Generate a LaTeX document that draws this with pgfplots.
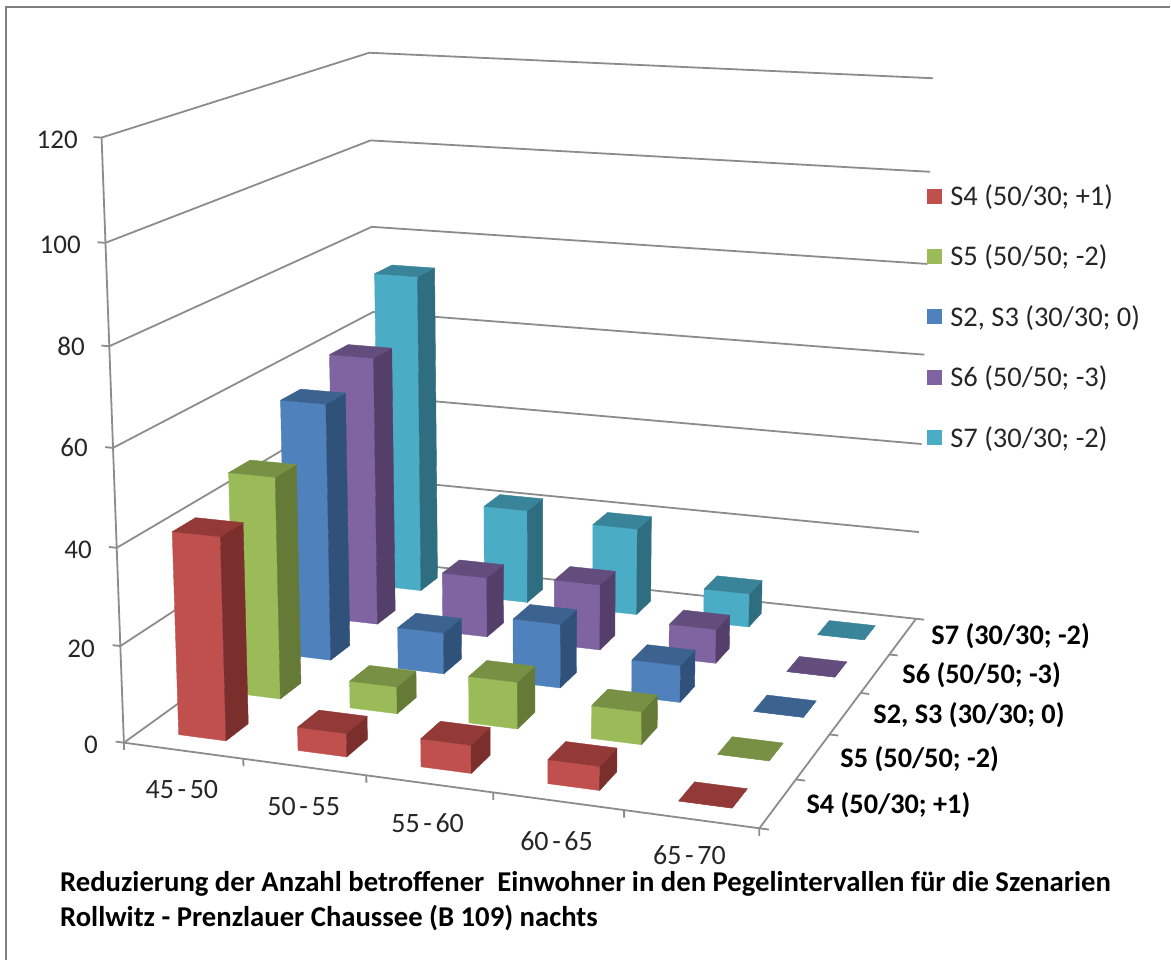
\documentclass[border=0pt]{standalone}
\usepackage{pgfplots}
\usepackage{pgfplotstable}
\usepackage{fontspec}
\pgfplotsset{compat=1.18}
\setmainfont{Carlito}

% Series colours: front, side and top face of each bar
\definecolor{redF}{HTML}{C0504D}\definecolor{redS}{HTML}{7A2F2D}\definecolor{redT}{HTML}{933A38}
\definecolor{grnF}{HTML}{9BBB59}\definecolor{grnS}{HTML}{667A37}\definecolor{grnT}{HTML}{779044}
\definecolor{bluF}{HTML}{4F81BD}\definecolor{bluS}{HTML}{30527A}\definecolor{bluT}{HTML}{3C6390}
\definecolor{purF}{HTML}{8064A2}\definecolor{purS}{HTML}{533F69}\definecolor{purT}{HTML}{624D7C}
\definecolor{cyaF}{HTML}{4BACC6}\definecolor{cyaS}{HTML}{2F6E80}\definecolor{cyaT}{HTML}{3A8499}
\definecolor{gridc}{HTML}{8C8C8C}

% Unit corners of the three visible bar faces
\pgfplotstableread{
a b c
0 0 0
1 0 0
1 0 1
0 0 1
0 0 0
}\frontface
\pgfplotstableread{
a b c
1 0 0
1 1 0
1 1 1
1 0 1
1 0 0
}\sideface
\pgfplotstableread{
a b c
0 0 1
1 0 1
1 1 1
0 1 1
0 0 1
}\topface
\pgfplotstableread{
a b
0 0
0 1
1 1
}\wallpath
\pgfplotstableread{
t s
0 0
1 1
}\segpath

% One face of the bar in category #1, row #2, of height #3
\newcommand{\barface}[5]{%
  \addplot[fill=#4,draw=#4,line width=0.4pt,forget plot] table[
    x expr={px(0.2*#1+0.063+0.08*\thisrow{a},0.2*#2+0.06+0.08*\thisrow{b},#3/120*\thisrow{c})},
    y expr={py(0.2*#1+0.063+0.08*\thisrow{a},0.2*#2+0.06+0.08*\thisrow{b},#3/120*\thisrow{c})}] {#5};}
\newcommand{\barbox}[4]{%
  \barface{#1}{#2}{#3}{#4F}{\frontface}%
  \barface{#1}{#2}{#3}{#4S}{\sideface}%
  \barface{#1}{#2}{#3}{#4T}{\topface}}
% Gridline of the back walls at one value
\newcommand{\wallline}[1]{%
  \addplot[draw=gridc,line width=1.8pt,forget plot] table[
    x expr={px(\thisrow{a},\thisrow{b},#1/120)},
    y expr={py(\thisrow{a},\thisrow{b},#1/120)}] {\wallpath};}
% Straight segment between two box positions
\newcommand{\seg}[6]{%
  \addplot[draw=gridc,line width=1.8pt,forget plot] table[
    x expr={px(#1+(#4-#1)*\thisrow{t},#2+(#5-#2)*\thisrow{t},(#3+(#6-#3)*\thisrow{t})/120)},
    y expr={py(#1+(#4-#1)*\thisrow{t},#2+(#5-#2)*\thisrow{t},(#3+(#6-#3)*\thisrow{t})/120)}] {\segpath};}
% Category label with narrow spacing round the dash
\newcommand{\rng}[2]{\fontsize{28}{32}\selectfont #1\hspace{0.13em}-\hspace{0.13em}#2}

\begin{document}
\begin{tikzpicture}
\begin{axis}[
  width=1171pt,height=961pt,scale only axis,
  xmin=0,xmax=1171,ymin=0,ymax=961,y dir=reverse,
  axis lines=none,clip=false,
  declare function={
    dd(\p,\q,\r)=1-0.075*\p+0.2*\q-0.05*\r;
    px(\p,\q,\r)=(124+579*\p+328.4*\q-27.4*\r)/dd(\p,\q,\r);
    py(\p,\q,\r)=(743.3+23.5*\p-70.1*\q-612.5*\r)/dd(\p,\q,\r);
  },
  legend image code/.code={\fill[#1] (0pt,-4.5pt) rectangle (15pt,10.5pt);},
  legend cell align=left,
  legend style={at={(axis cs:928,185.5)},anchor=north west,draw=none,fill=none,
    inner sep=0pt,row sep=33.5pt,column sep=8pt,
    nodes={inner sep=0pt,text height=20pt,text depth=7pt,
      font=\fontsize{28.5}{32}\selectfont,text=black!85}},
]
% Page area
\path (axis cs:0,0) rectangle (axis cs:1171,961);
% Frame of the chart area
\addplot[draw=gray,line width=2pt,forget plot] coordinates {(6,961) (6,7) (1171,7)};

% Back walls and floor
\wallline{0}\wallline{20}\wallline{40}\wallline{60}\wallline{80}\wallline{100}\wallline{120}
\seg{0}{0}{0}{0}{0}{120}
\seg{0}{0}{0}{1}{0}{0}
\seg{1}{0}{0}{1}{1}{0}
% Value ticks
\seg{0}{0}{0}{-0.014}{0}{0}\seg{0}{0}{20}{-0.013}{0}{20}\seg{0}{0}{40}{-0.013}{0}{40}
\seg{0}{0}{60}{-0.013}{0}{60}\seg{0}{0}{80}{-0.013}{0}{80}\seg{0}{0}{100}{-0.013}{0}{100}
\seg{0}{0}{120}{-0.013}{0}{120}
% Category ticks
\seg{0}{0}{0}{0}{0}{-1.5}\seg{0.2}{0}{0}{0.2}{0}{-1.5}\seg{0.4}{0}{0}{0.4}{0}{-1.5}
\seg{0.6}{0}{0}{0.6}{0}{-1.5}\seg{0.8}{0}{0}{0.8}{0}{-1.5}\seg{1}{0}{0}{1}{0}{-1.5}
% Depth ticks
\seg{1}{0}{0}{1.014}{0}{0}\seg{1}{0.2}{0}{1.014}{0.2}{0}\seg{1}{0.4}{0}{1.014}{0.4}{0}
\seg{1}{0.6}{0}{1.014}{0.6}{0}\seg{1}{0.8}{0}{1.014}{0.8}{0}\seg{1}{1}{0}{1.014}{1}{0}

% Bars, rear row first: {category}{row}{value}{colour}
\barbox{0}{4}{73.1}{cya}\barbox{1}{4}{21.5}{cya}\barbox{2}{4}{19.8}{cya}\barbox{3}{4}{7.6}{cya}\barbox{4}{4}{0}{cya}
\barbox{0}{3}{60.2}{pur}\barbox{1}{3}{13.4}{pur}\barbox{2}{3}{14.6}{pur}\barbox{3}{3}{7.5}{pur}\barbox{4}{3}{0}{pur}
\barbox{0}{2}{56.1}{blu}\barbox{1}{2}{9.0}{blu}\barbox{2}{2}{13.8}{blu}\barbox{3}{2}{7.9}{blu}\barbox{4}{2}{0}{blu}
\barbox{0}{1}{47.1}{grn}\barbox{1}{1}{5.7}{grn}\barbox{2}{1}{9.8}{grn}\barbox{3}{1}{6.8}{grn}\barbox{4}{1}{0}{grn}
\barbox{0}{0}{41.9}{red}\barbox{1}{0}{4.8}{red}\barbox{2}{0}{5.7}{red}\barbox{3}{0}{4.8}{red}\barbox{4}{0}{0}{red}

% Legend
\addlegendimage{fill=redF,draw=none}\addlegendentry{S4 (50/30; +1)}
\addlegendimage{fill=grnF,draw=none}\addlegendentry{S5 (50/50; -2)}
\addlegendimage{fill=bluF,draw=none}\addlegendentry{S2, S3 (30/30; 0)}
\addlegendimage{fill=purF,draw=none}\addlegendentry{S6 (50/50; -3)}
\addlegendimage{fill=cyaF,draw=none}\addlegendentry{S7 (30/30; -2)}

% Value labels
\begin{scope}[every node/.style={font=\fontsize{27}{32}\selectfont,text=black!85,inner sep=0pt}]
\node[anchor=east] at (axis cs:78,140) {120};
\node[anchor=east] at (axis cs:81,245) {100};
\node[anchor=east] at (axis cs:85,347) {80};
\node[anchor=east] at (axis cs:88,448) {60};
\node[anchor=east] at (axis cs:92,550) {40};
\node[anchor=east] at (axis cs:95,649) {20};
\node[anchor=east] at (axis cs:98,745) {0};
% Category labels
\node at (axis cs:182,790) {\rng{45}{50}};
\node at (axis cs:304,807) {\rng{50}{55}};
\node at (axis cs:428,824) {\rng{55}{60}};
\node at (axis cs:557,842) {\rng{60}{65}};
\node at (axis cs:690,856) {\rng{65}{70}};
\end{scope}
% Row labels
\begin{scope}[every node/.style={font=\fontsize{28.3}{32}\selectfont\bfseries,text=black,inner sep=0pt,anchor=west}]
\node at (axis cs:807,806) {S4 (50/30; +1)};
\node at (axis cs:841,760) {S5 (50/50; -2)};
\node at (axis cs:874,716) {S2, S3 (30/30; 0)};
\node at (axis cs:903,676) {S6 (50/50; -3)};
\node at (axis cs:932,637) {S7 (30/30; -2)};
\end{scope}
% Caption
\begin{scope}[every node/.style={font=\fontsize{28.7}{32}\selectfont\bfseries,text=black,inner sep=0pt,anchor=west}]
\node at (axis cs:60,885) {Reduzierung der Anzahl betroffener\ \ Einwohner in den Pegelintervallen für die Szenarien};
\node at (axis cs:60,919) {Rollwitz - Prenzlauer Chaussee (B 109) nachts};
\end{scope}
\end{axis}
\end{tikzpicture}
\end{document}
